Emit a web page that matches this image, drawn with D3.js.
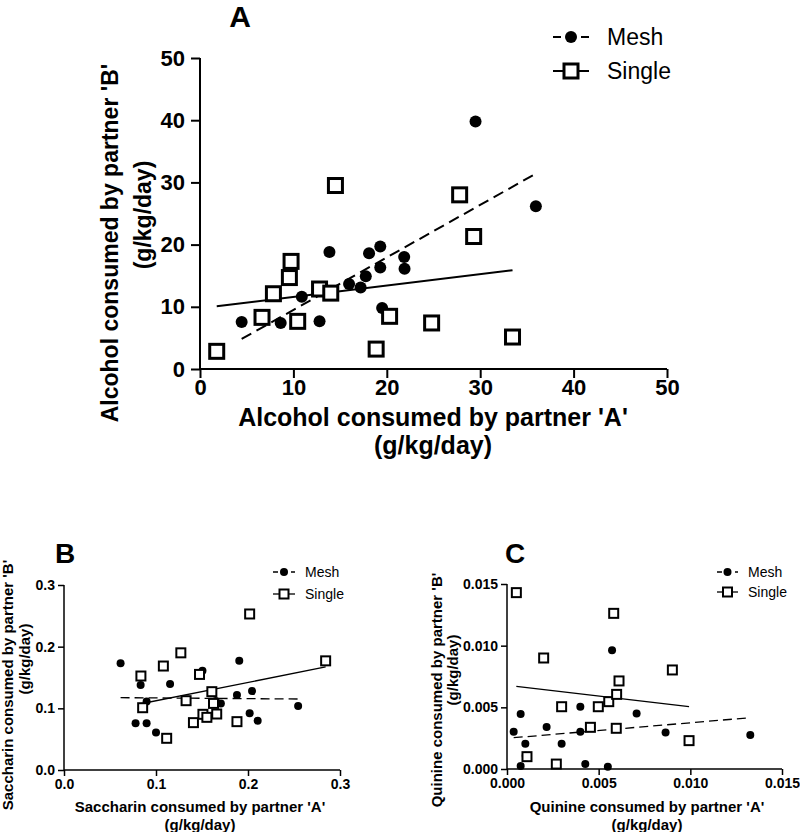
<!DOCTYPE html>
<html><head><meta charset="utf-8">
<script src="https://cdn.jsdelivr.net/npm/d3@7"></script>
<style>
body{margin:0;background:#fff;}
svg{display:block;font-family:Arial,"Liberation Sans",sans-serif;}
</style></head>
<body><svg id="c" width="800" height="832"></svg>
<script>
// ---- Panel A: alcohol ----
const alcMeshX = [4.46,8.64,10.9,12.8,13.86,15.96,17.2,17.75,18.1,19.3,19.3,19.5,21.86,21.9,29.5,35.96];
const alcMeshY = [7.56,7.4,11.6,7.66,18.8,13.67,13.1,14.9,18.6,19.7,16.3,9.8,18.0,16.1,39.8,26.15];
const alcSingleX = [1.79,6.64,7.86,9.57,9.75,10.46,12.8,14.0,14.5,18.86,20.3,24.8,27.8,29.3,33.46];
const alcSingleY = [2.84,8.3,12.1,14.7,17.3,7.66,12.86,12.2,29.5,3.2,8.47,7.4,28.0,21.3,5.14];
const alcMeshFit = [1.06, 0.844];     // intercept, slope
const alcSingleFit = [9.76, 0.1825];
const alcTicks = [0,10,20,30,40,50];

// ---- Panel B: saccharin ----
const sacMeshX = [0.0615,0.0833,0.0898,0.0778,0.0898,0.1,0.1153,0.1505,0.165,0.1705,0.188,0.1905,0.2044,0.2018,0.2105,0.2545];
const sacMeshY = [0.173,0.138,0.111,0.0757,0.0757,0.061,0.1395,0.161,0.112,0.108,0.1216,0.177,0.128,0.0919,0.08,0.1038];
const sacSingleX = [0.0836,0.0855,0.108,0.127,0.1327,0.1407,0.1473,0.151,0.1553,0.1607,0.1625,0.166,0.188,0.2018,0.2844,0.1116];
const sacSingleY = [0.1524,0.101,0.1686,0.19,0.1124,0.0768,0.155,0.0903,0.0854,0.127,0.108,0.0908,0.0784,0.253,0.177,0.0514];
const sacMeshFit = [0.118, -0.0114];
const sacSingleFit = [0.0826, 0.297];
const sacTicks = [0,0.1,0.2,0.3];

// ---- Panel C: quinine ----
const quiMeshX = [0.000364,0.000745,0.001,0.000745,0.00102,0.00216,0.00298,0.004,0.004,0.00427,0.0055,0.00573,0.00707,0.00865,0.01327];
const quiMeshY = [0.00303,0.00446,0.00205,0.00024,0.00108,0.0034,0.00205,0.00505,0.00303,0.0004,0.00019,0.00962,0.00451,0.00295,0.00276];
const quiSingleX = [0.00051,0.002,0.00109,0.00269,0.00298,0.00455,0.00498,0.00555,0.00582,0.00598,0.00611,0.00596,0.00902,0.00993];
const quiSingleY = [0.0143,0.009,0.001,0.0004,0.00505,0.00338,0.00505,0.00546,0.01262,0.00605,0.00714,0.0033,0.00803,0.0023];
const quiMeshFit = [0.00249, 0.1258];
const quiSingleFit = [0.00679, -0.175];
const quiTicks = [0,0.005,0.010,0.015];

const svg = d3.select("#c");

function panel(o){
  const g = svg.append("g");
  const x = d3.scaleLinear().domain(o.dom).range(o.xr);
  const y = d3.scaleLinear().domain(o.dom2).range(o.yr);
  const ax = g.append("g").attr("transform",`translate(0,${o.yr[0]})`)
    .call(d3.axisBottom(x).tickValues(o.xt).tickFormat(o.fmt).tickSize(o.tick).tickPadding(o.padx));
  const ay = g.append("g").attr("transform",`translate(${o.xr[0]},0)`)
    .call(d3.axisLeft(y).tickValues(o.yt).tickFormat(o.fmt).tickSize(o.tick).tickPadding(o.pad));
  [ax,ay].forEach(a=>{
    a.select(".domain").attr("stroke","#000").attr("stroke-width",o.aw);
    a.selectAll(".tick line").attr("stroke","#000").attr("stroke-width",o.aw);
    a.selectAll(".tick text").attr("fill","#000").style("font-size",o.tfs+"px").style("font-weight","bold")
     .style("font-family","Arial, 'Liberation Sans', sans-serif");
  });
  ax.select(".domain").attr("d",`M${o.xr[0]},0H${o.xr[1]}`);
  ay.select(".domain").attr("d",`M0,${o.yr[0]}V${o.yr[1]}`);

  // fit lines
  function fit(xs, p, dash){
    const x0 = d3.min(xs), x1 = d3.max(xs);
    g.append("line").attr("x1",x(x0)).attr("y1",y(p[0]+p[1]*x0))
      .attr("x2",x(x1)).attr("y2",y(p[0]+p[1]*x1))
      .attr("stroke","#000").attr("stroke-width",o.lw).attr("stroke-dasharray",dash);
  }
  fit(o.mx,o.mfit,o.dash);
  fit(o.sx,o.sfit,null);

  // points
  g.selectAll(null).data(d3.zip(o.mx,o.my)).join("circle")
    .attr("cx",d=>x(d[0])).attr("cy",d=>y(d[1])).attr("r",o.r).attr("fill","#000");
  g.selectAll(null).data(d3.zip(o.sx,o.sy)).join("rect")
    .attr("x",d=>x(d[0])-o.sq/2).attr("y",d=>y(d[1])-o.sq/2).attr("width",o.sq).attr("height",o.sq)
    .attr("fill","#fff").attr("stroke","#000").attr("stroke-width",o.sw);

  // panel letter
  g.append("text").attr("x",o.letter[0]).attr("y",o.letter[1]).attr("text-anchor","middle")
    .style("font-size",o.lfs+"px").style("font-weight","bold").text(o.letter[2]);

  // axis titles
  g.append("text").attr("x",o.xtitle[0]).attr("y",o.xtitle[1]).attr("text-anchor","middle")
    .style("font-size",o.xfs+"px").style("font-weight","bold").text(o.xtitle[2]);
  g.append("text").attr("x",o.xtitle[0]).attr("y",o.xtitle[3]).attr("text-anchor","middle")
    .style("font-size",o.xfs+"px").style("font-weight","bold").text("(g/kg/day)");
  g.append("text").attr("transform",`translate(${o.ytitle[0]},${o.ytitle[1]}) rotate(-90)`).attr("text-anchor","middle")
    .style("font-size",o.yfs+"px").style("font-weight","bold").text(o.ytitle[2]);
  g.append("text").attr("transform",`translate(${o.ytitle[3]},${o.ytitle[4]}) rotate(-90)`).attr("text-anchor","middle")
    .style("font-size",o.yfs+"px").style("font-weight","bold").text("(g/kg/day)");

  // legend
  const L = o.leg; // [x0, x1, yMesh, ySingle, textX, fs]
  const cxm = (L[0]+L[1])/2;
  g.append("line").attr("x1",L[0]).attr("x2",L[1]).attr("y1",L[2]).attr("y2",L[2])
    .attr("stroke","#000").attr("stroke-width",o.lw).attr("stroke-dasharray",o.legDash);
  g.append("circle").attr("cx",cxm).attr("cy",L[2]).attr("r",o.r);
  g.append("line").attr("x1",L[0]).attr("x2",L[1]).attr("y1",L[3]).attr("y2",L[3])
    .attr("stroke","#000").attr("stroke-width",o.lw);
  g.append("rect").attr("x",cxm-o.sq/2).attr("y",L[3]-o.sq/2).attr("width",o.sq).attr("height",o.sq)
    .attr("fill","#fff").attr("stroke","#000").attr("stroke-width",o.sw);
  g.append("text").attr("x",L[4]).attr("y",L[2]).attr("dy","0.36em").style("font-size",L[5]+"px").text("Mesh");
  g.append("text").attr("x",L[4]).attr("y",L[3]).attr("dy","0.36em").style("font-size",L[5]+"px").text("Single");
}

panel({dom:[0,50],dom2:[0,50],xr:[200,667],yr:[369,58],xt:alcTicks,yt:alcTicks,fmt:d3.format("d"),
  tick:9,pad:6,padx:1,aw:2,tfs:22,lw:2,dash:"11,6",r:6,sq:14,sw:3,
  mx:alcMeshX,my:alcMeshY,sx:alcSingleX,sy:alcSingleY,mfit:alcMeshFit,sfit:alcSingleFit,
  letter:[240,27,"A"],lfs:30,
  xtitle:[433,426,"Alcohol consumed by partner 'A'",454],xfs:25,
  ytitle:[118,243,"Alcohol consumed by partner 'B'",151,215],yfs:23,
  leg:[553,589,37,71,607,23],legDash:"8,6"});

panel({dom:[0,0.3],dom2:[0,0.3],xr:[64,340],yr:[770,585],xt:sacTicks,yt:sacTicks,fmt:d3.format(".1f"),
  tick:6,pad:3,padx:3,aw:1.5,tfs:14,lw:1.3,dash:"9,5",r:4,sq:9,sw:2,
  mx:sacMeshX,my:sacMeshY,sx:sacSingleX,sy:sacSingleY,mfit:sacMeshFit,sfit:sacSingleFit,
  letter:[65,563,"B"],lfs:28,
  xtitle:[200,812,"Saccharin consumed by partner 'A'",830],xfs:15,
  ytitle:[13,685,"Saccharin consumed by partner 'B'",30,659],yfs:15,
  leg:[273,295,572,594,305,14],legDash:"5,4"});

panel({dom:[0,0.015],dom2:[0,0.015],xr:[507,782],yr:[769,584],xt:quiTicks,yt:quiTicks,fmt:d3.format(".3f"),
  tick:6,pad:3,padx:3,aw:1.5,tfs:14,lw:1.3,dash:"9,5",r:4,sq:9,sw:2,
  mx:quiMeshX,my:quiMeshY,sx:quiSingleX,sy:quiSingleY,mfit:quiMeshFit,sfit:quiSingleFit,
  letter:[515,563,"C"],lfs:28,
  xtitle:[647,812,"Quinine consumed by partner 'A'",830],xfs:15,
  ytitle:[442,690,"Quinine consumed by partner 'B'",458,670],yfs:15,
  leg:[717,738,572,592,748,14],legDash:"5,4"});
</script></body></html>
